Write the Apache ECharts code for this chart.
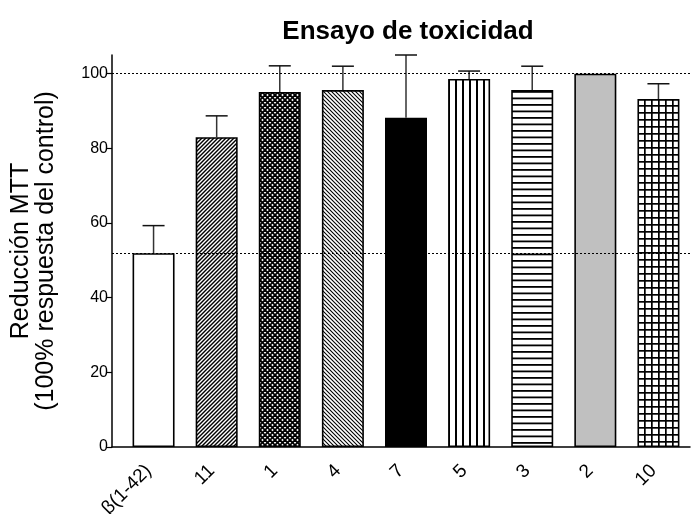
<!DOCTYPE html>
<html>
<head>
<meta charset="utf-8">
<script src="https://cdn.jsdelivr.net/npm/echarts@6/dist/echarts.min.js"></script>
<style>html,body{margin:0;padding:0;background:#fff}#c{width:691px;height:514px}</style>
</head>
<body>
<div id="c"></div>
<script>
const categories = ['β(1-42)', '11', '1', '4', '7', '5', '3', '2', '10'];
const values = [51.9, 83.0, 95.1, 95.6, 88.2, 98.6, 95.6, 100, 93.2];
const errors = [7.4, 5.7, 7.0, 6.4, 16.8, 2.1, 6.4, 0, 4.1];
const yTicks = [0, 20, 40, 60, 80, 100];
const refLines = [100, 51.9];

function tile(w, h, draw) {
  const c = document.createElement('canvas');
  c.width = w; c.height = h;
  const g = c.getContext('2d');
  g.fillStyle = '#fff'; g.fillRect(0, 0, w, h);
  g.strokeStyle = '#000'; g.fillStyle = '#000';
  draw(g, w, h);
  return { image: c, repeat: 'repeat' };
}
function seg(g, a, b, c, d) { g.beginPath(); g.moveTo(a, b); g.lineTo(c, d); g.stroke(); }
function fwd(g, s) { seg(g, -1, s + 1, s + 1, -1); seg(g, -1, 1, 1, -1); seg(g, s - 1, s + 1, s + 1, s - 1); }
function back(g, s) { seg(g, -1, -1, s + 1, s + 1); seg(g, -1, s - 1, 1, s + 1); seg(g, s - 1, -1, s + 1, 1); }

const patterns = [
  '#ffffff',
  tile(4, 4, g => { g.lineWidth = 1.4; fwd(g, 4); }),
  tile(5, 5, g => { g.lineWidth = 1.8; fwd(g, 5); back(g, 5); }),
  tile(4, 4, g => { g.lineWidth = 1.1; back(g, 4); }),
  '#000000',
  tile(7, 1, g => { g.fillRect(0, 0, 2, 1); }),
  tile(1, 13, g => { g.fillRect(0, 0, 1, 1.8); g.fillRect(0, 6.5, 1, 1.8); }),
  '#c0c0c0',
  tile(7, 7, g => { g.fillRect(0, 0, 7, 1.7); g.fillRect(0, 0, 1.7, 7); })
];

const barData = values.map((v, i) => ({ value: v, itemStyle: { color: patterns[i] } }));
const errData = values.map((v, i) => [i, v, errors[i]]);

const chart = echarts.init(document.getElementById('c'), null, { renderer: 'canvas' });
const font = 'Liberation Sans, Arial, sans-serif';
chart.setOption({
  animation: false,
  backgroundColor: '#fff',
  title: {
    text: 'Ensayo de toxicidad',
    left: 403, top: 14, textAlign: 'center',
    textStyle: { fontFamily: font, fontSize: 26, fontWeight: 'bold', color: '#000' }
  },
  grid: [
    { left: 122, right: 1, top: 55, bottom: 67, containLabel: false, outerBoundsMode: 'none' },
    { left: 112, right: 1, top: 55, bottom: 67, containLabel: false, outerBoundsMode: 'none' }
  ],
  xAxis: [
    {
      gridIndex: 0, type: 'category', data: categories,
      axisLine: { show: false }, axisTick: { show: false }, splitLine: { show: false },
      axisLabel: {
        interval: 0, rotate: 45, margin: 16, padding: [0, 7, 0, 0],
        fontFamily: font, fontSize: 19, color: '#000'
      }
    },
    {
      gridIndex: 1, type: 'value', min: 0, max: 1,
      axisLine: { show: true, onZero: false, lineStyle: { color: '#000', width: 1.5 } },
      axisTick: { show: false }, axisLabel: { show: false }, splitLine: { show: false }
    }
  ],
  yAxis: [
    { gridIndex: 0, type: 'value', min: 0, max: 105, show: false, splitLine: { show: false } },
    {
      gridIndex: 1, type: 'value', min: 0, max: 105, interval: 20,
      name: 'Reducción MTT\n(100% respuesta del control)',
      nameLocation: 'middle', nameRotate: 90, nameGap: 53,
      nameTextStyle: { fontFamily: font, fontSize: 25, color: '#000', lineHeight: 25, align: 'center' },
      axisLine: { show: true, onZero: false, lineStyle: { color: '#000', width: 1.5 } },
      axisTick: { show: true, length: 5, lineStyle: { color: '#000', width: 1.2 } },
      splitLine: { show: false },
      axisLabel: {
        margin: 4, showMaxLabel: false,
        formatter: v => (yTicks.indexOf(v) >= 0 ? String(v) : ''),
        fontFamily: font, fontSize: 16, color: '#000'
      }
    }
  ],
  series: [
    {
      type: 'line', xAxisIndex: 1, yAxisIndex: 1, data: [], z: 1, silent: true,
      markLine: {
        silent: true, symbol: 'none', label: { show: false },
        lineStyle: { color: '#000', type: [2, 2], width: 1 },
        data: refLines.map(y => ({ yAxis: y }))
      }
    },
    {
      type: 'bar', xAxisIndex: 0, yAxisIndex: 0, z: 2, barWidth: 42, data: barData,
      itemStyle: { borderColor: '#000', borderWidth: 1.6 }
    },
    {
      type: 'custom', xAxisIndex: 0, yAxisIndex: 0, z: 3, data: errData,
      renderItem: (params, api) => {
        const x = api.value(0), v = api.value(1), e = api.value(2);
        if (!e) return null;
        const p0 = api.coord([x, v]);
        const p1 = api.coord([x, v + e]);
        const hw = 11;
        return {
          type: 'group',
          children: [
            { type: 'line', shape: { x1: p0[0], y1: p0[1], x2: p1[0], y2: p1[1] }, style: { stroke: '#333', lineWidth: 1.5 } },
            { type: 'line', shape: { x1: p1[0] - hw, y1: p1[1], x2: p1[0] + hw, y2: p1[1] }, style: { stroke: '#111', lineWidth: 1.5 } }
          ]
        };
      }
    }
  ]
});
</script>
</body>
</html>
